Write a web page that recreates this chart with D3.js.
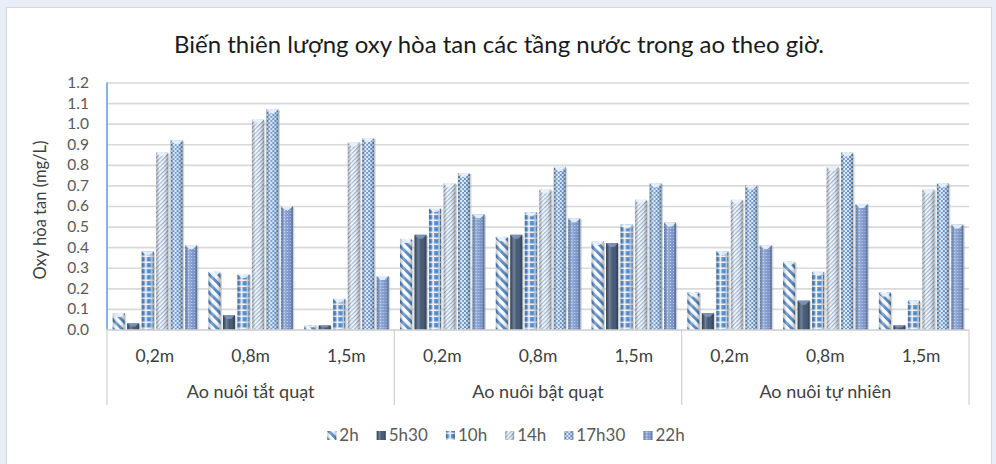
<!DOCTYPE html>
<html>
<head>
<meta charset="utf-8">
<script src="https://cdn.jsdelivr.net/npm/d3@7"></script>
<style>
  html, body { margin: 0; padding: 0; background: #e8edf7; }
  svg { display: block; }
  text { font-family: Lato, "Open Sans", "Noto Sans", sans-serif; }
</style>
</head>
<body>
<svg id="chart" width="996" height="464"></svg>
<script>
// ---- data ----
const groups = ["Ao nuôi tắt quạt", "Ao nuôi bật quạt", "Ao nuôi tự nhiên"];
const depths = ["0,2m", "0,8m", "1,5m"];
const seriesNames = ["2h", "5h30", "10h", "14h", "17h30", "22h"];
// one value per (pond, depth), in the order of groups × depths
const v2h    = [0.08, 0.28, 0.02, 0.44, 0.45, 0.43, 0.18, 0.33, 0.18];
const v5h30  = [0.03, 0.07, 0.02, 0.46, 0.46, 0.42, 0.08, 0.14, 0.02];
const v10h   = [0.38, 0.27, 0.15, 0.59, 0.57, 0.51, 0.38, 0.28, 0.14];
const v14h   = [0.86, 1.02, 0.91, 0.71, 0.68, 0.63, 0.63, 0.79, 0.68];
const v17h30 = [0.92, 1.07, 0.93, 0.76, 0.79, 0.71, 0.70, 0.86, 0.71];
const v22h   = [0.41, 0.60, 0.26, 0.56, 0.54, 0.52, 0.41, 0.61, 0.51];
const yTicks = [0.0, 0.1, 0.2, 0.3, 0.4, 0.5, 0.6, 0.7, 0.8, 0.9, 1.0, 1.1, 1.2];
const chartTitle = "Biến thiên lượng oxy hòa tan các tầng nước trong ao theo giờ.";
const yTitle = "Oxy hòa tan (mg/L)";

const seriesValues = [v2h, v5h30, v10h, v14h, v17h30, v22h];
const categories = [];
groups.forEach((g, gi) => depths.forEach((d, di) => categories.push({ key: gi + "-" + di, group: g, depth: d })));

// ---- layout ----
const svg = d3.select("#chart");
const plot = { left: 107, right: 969, top: 82.5, bottom: 329.5 };
const axisBottomEnd = 405;

// frame
svg.append("rect").attr("x", 6.5).attr("y", 7.5).attr("width", 985).attr("height", 470)
  .attr("fill", "#fff").attr("stroke", "#d6d6d6");

// ---- patterns ----
const defs = svg.append("defs");

// 2h: wide blue "\" stripes on white
let p = defs.append("pattern").attr("id", "pat-0").attr("patternUnits", "userSpaceOnUse")
  .attr("width", 6.5).attr("height", 6.5).attr("patternTransform", "rotate(-45)");
p.append("rect").attr("width", 6.5).attr("height", 6.5).attr("fill", "#ffffff");
p.append("rect").attr("width", 3).attr("height", 6.5).attr("fill", "#4d84c4");

// 5h30: solid navy
p = defs.append("pattern").attr("id", "pat-1").attr("patternUnits", "userSpaceOnUse")
  .attr("width", 4).attr("height", 4);
p.append("rect").attr("width", 4).attr("height", 4).attr("fill", "#3b516f");

// 10h: blue plaid
p = defs.append("pattern").attr("id", "pat-2").attr("patternUnits", "userSpaceOnUse")
  .attr("width", 6).attr("height", 6);
p.append("rect").attr("width", 6).attr("height", 6).attr("fill", "#5a92d2");
p.append("rect").attr("x", 3.5).attr("width", 1.5).attr("height", 6).attr("fill", "#e9f2fb");
p.append("rect").attr("y", 3.5).attr("width", 6).attr("height", 1.5).attr("fill", "#e9f2fb");
p.append("rect").attr("x", 0.5).attr("y", 0.5).attr("width", 2).attr("height", 2).attr("fill", "#3f78bd");

// 14h: fine "/" hatch
p = defs.append("pattern").attr("id", "pat-3").attr("patternUnits", "userSpaceOnUse")
  .attr("width", 3).attr("height", 3).attr("patternTransform", "rotate(45)");
p.append("rect").attr("width", 3).attr("height", 3).attr("fill", "#f4f7fb");
p.append("rect").attr("width", 1.2).attr("height", 3).attr("fill", "#8ea8c9");

// 17h30: dense blue dots
p = defs.append("pattern").attr("id", "pat-4").attr("patternUnits", "userSpaceOnUse")
  .attr("width", 4).attr("height", 4);
p.append("rect").attr("width", 4).attr("height", 4).attr("fill", "#dde9f6");
p.append("circle").attr("cx", 1).attr("cy", 1).attr("r", 1.1).attr("fill", "#4b82c3");
p.append("circle").attr("cx", 3).attr("cy", 3).attr("r", 1.1).attr("fill", "#4b82c3");

// 22h: medium blue with fine light grid
p = defs.append("pattern").attr("id", "pat-5").attr("patternUnits", "userSpaceOnUse")
  .attr("width", 3).attr("height", 3);
p.append("rect").attr("width", 3).attr("height", 3).attr("fill", "#7896cd");
p.append("rect").attr("width", 1).attr("height", 1).attr("fill", "#c3d2ee");

// cylinder shading overlay
const g1 = defs.append("linearGradient").attr("id", "shade").attr("x1", 0).attr("x2", 1).attr("y1", 0).attr("y2", 0);
[[0, "#000", 0.22], [0.3, "#fff", 0.28], [0.55, "#fff", 0.05], [1, "#000", 0.32]].forEach(([o, c, a]) =>
  g1.append("stop").attr("offset", o).attr("stop-color", c).attr("stop-opacity", a));

// ---- scales ----
const x0 = d3.scaleBand().domain(categories.map(d => d.key)).range([plot.left, plot.right]).padding(0);
const x1 = d3.scaleBand().domain(d3.range(seriesNames.length)).range([0, x0.bandwidth()])
  .paddingInner(0.17).paddingOuter(0.39);
const y = d3.scaleLinear().domain([0, 1.2]).range([plot.bottom, plot.top]);

// gridlines
svg.append("g").attr("transform", `translate(${plot.left},0)`)
  .call(d3.axisLeft(y).tickValues(yTicks).tickSize(-(plot.right - plot.left)).tickFormat(""))
  .call(g => g.select(".domain").remove())
  .call(g => g.selectAll("line").attr("stroke", "#d9d9d9").attr("stroke-width", 1.6));

// y tick labels
svg.append("g").attr("transform", `translate(${plot.left - 4},0)`)
  .call(d3.axisLeft(y).tickValues(yTicks).tickSize(0).tickPadding(14).tickFormat(d3.format(".1f")))
  .call(g => g.select(".domain").remove())
  .call(g => g.selectAll("text").attr("fill", "#595959").style("font-size", "15.5px")
    .style("font-family", "Lato, 'Open Sans', sans-serif"));

// ---- bars ----
const barData = [];
categories.forEach((c, ci) => seriesValues.forEach((vals, si) => barData.push({ c, ci, si, v: vals[ci] })));

const bars = svg.append("g").selectAll("g").data(barData).join("g")
  .attr("transform", d => `translate(${x0(d.c.key) + x1(d.si)},0)`);
const bw = x1.bandwidth();

// soft shadow to the right
bars.append("rect").attr("x", 1.5).attr("y", d => y(d.v) + 1).attr("width", bw)
  .attr("height", d => Math.max(0, y(0) - y(d.v) - 1)).attr("fill", "#9aa3ad").attr("opacity", 0.45);
bars.append("rect").attr("x", 0).attr("y", d => y(d.v)).attr("width", bw)
  .attr("height", d => y(0) - y(d.v)).attr("fill", d => `url(#pat-${d.si})`);
bars.append("rect").attr("x", 0).attr("y", d => y(d.v)).attr("width", bw)
  .attr("height", d => y(0) - y(d.v)).attr("fill", "url(#shade)");
// bevelled top cap
bars.filter(d => y(0) - y(d.v) > 3).append("path")
  .attr("d", d => {
    const t = y(d.v), h = Math.min(4, (y(0) - t) / 2);
    return `M0,${t}L${bw},${t}L${bw / 2 + 2},${t + h}L${bw / 2 - 2},${t + h}Z`;
  })
  .attr("fill", d => d.si === 1 ? "#7e96b8" : "#e9f3fc").attr("opacity", 0.9);

// y axis line
svg.append("line").attr("x1", plot.left).attr("x2", plot.left).attr("y1", plot.top).attr("y2", plot.bottom)
  .attr("stroke", "#5b9bd5").attr("stroke-width", 1.5);

// ---- category axis (two levels) ----
const catAxis = svg.append("g").attr("stroke", "#d0d0d0").attr("stroke-width", 1.2);
catAxis.append("line").attr("x1", plot.left).attr("x2", plot.right).attr("y1", plot.bottom + 0.5).attr("y2", plot.bottom + 0.5);
d3.range(groups.length + 1).forEach(i => {
  const xx = i < groups.length ? x0(categories[i * depths.length].key) : plot.right;
  catAxis.append("line").attr("x1", xx).attr("x2", xx).attr("y1", plot.bottom).attr("y2", axisBottomEnd);
});

svg.append("g").selectAll("text").data(categories).join("text")
  .attr("x", d => x0(d.key) + x0.bandwidth() / 2).attr("y", 362)
  .attr("text-anchor", "middle").attr("fill", "#404040").style("font-size", "17.5px")
  .text(d => d.depth);

svg.append("g").selectAll("text").data(groups).join("text")
  .attr("x", (g, i) => {
    const a = x0(categories[i * depths.length].key);
    const b = x0(categories[i * depths.length + depths.length - 1].key) + x0.bandwidth();
    return (a + b) / 2;
  })
  .attr("y", 398).attr("text-anchor", "middle").attr("fill", "#404040").style("font-size", "18px")
  .text(d => d);

// ---- titles ----
svg.append("text").attr("x", 499).attr("y", 53).attr("text-anchor", "middle")
  .attr("fill", "#1a1a1a").style("font-size", "24px").text(chartTitle);

svg.append("text").attr("transform", "translate(46,210) rotate(-90)").attr("text-anchor", "middle")
  .attr("fill", "#404040").style("font-size", "16.5px").text(yTitle);

// ---- legend ----
const legendItems = seriesNames.map((n, i) => ({ n, i }));
const legend = svg.append("g");
let lx = 0;
const items = legend.selectAll("g").data(legendItems).join("g");
items.append("rect").attr("x", 0).attr("y", -10).attr("width", 9).attr("height", 9)
  .attr("fill", d => `url(#pat-${d.i})`);
items.append("rect").attr("x", 0).attr("y", -10).attr("width", 9).attr("height", 9)
  .attr("fill", "url(#shade)");
items.append("text").attr("x", 12).attr("y", 0).attr("fill", "#595959").style("font-size", "17px").text(d => d.n);
items.each(function () {
  const w = this.getBBox().width;
  d3.select(this).attr("transform", `translate(${lx},0)`);
  lx += w + 18;
});
const totalW = lx - 18;
legend.attr("transform", `translate(${506 - totalW / 2},441)`);
</script>
</body>
</html>
